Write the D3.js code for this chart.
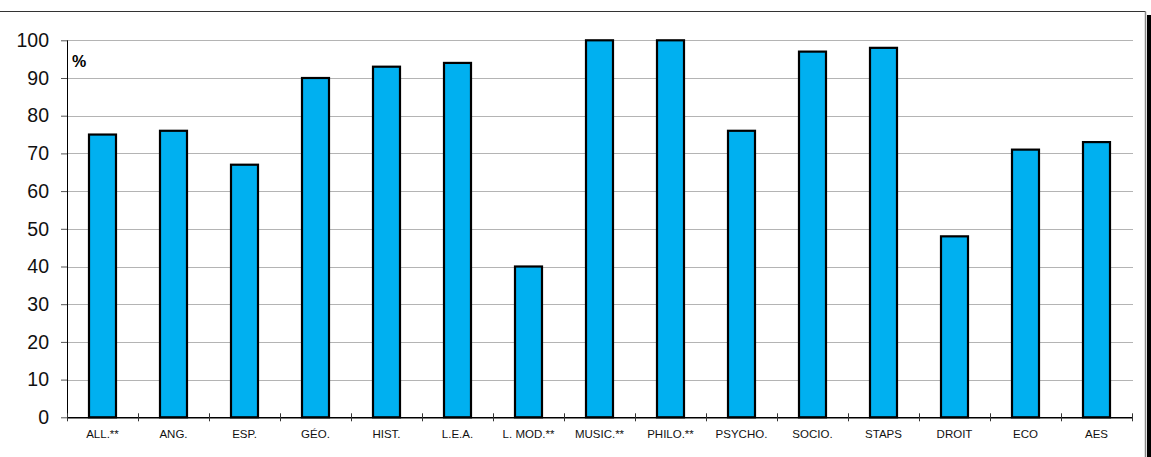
<!DOCTYPE html>
<html><head><meta charset="utf-8">
<script src="https://cdn.jsdelivr.net/npm/d3@7"></script>
<style>html,body{margin:0;padding:0;background:#fff;}svg{display:block;}</style>
</head><body>
<script>
const categories = ["ALL.**","ANG.","ESP.","GÉO.","HIST.","L.E.A.","L. MOD.**","MUSIC.**","PHILO.**","PSYCHO.","SOCIO.","STAPS","DROIT","ECO","AES"];
const values = [75,76,67,90,93,94,40,100,100,76,97,98,48,71,73];
const yTicks = [0,10,20,30,40,50,60,70,80,90,100];
const unitLabel = "%";

(function(){
const W = 1151, H = 457;
const svg = d3.select("body").append("svg").attr("width", W).attr("height", H);

// outer frame
svg.append("line").attr("x1",0).attr("x2",1145.5).attr("y1",11.5).attr("y2",11.5).attr("stroke","#333").attr("stroke-width",1);
svg.append("line").attr("x1",1145.5).attr("x2",1145.5).attr("y1",11.5).attr("y2",H).attr("stroke","#888").attr("stroke-width",1.5);
svg.append("rect").attr("x",1147).attr("y",15).attr("width",4).attr("height",H-15).attr("fill","#000");

const pLeft = 67, pRight = 1132, pTop = 40.3, pBottom = 417.3;
const x = d3.scaleBand().domain(categories).range([pLeft, pRight]).paddingInner(0).paddingOuter(0);
const y = d3.scaleLinear().domain([0,100]).range([pBottom, pTop]);

// gridlines
svg.append("g").selectAll("line").data(yTicks.filter(d=>d>0)).join("line")
  .attr("x1", pLeft).attr("x2", pRight+1)
  .attr("y1", d=>Math.round(y(d))+0.5).attr("y2", d=>Math.round(y(d))+0.5)
  .attr("stroke","#b4b4b4").attr("stroke-width",1);

// bars
const bw = 27;
svg.append("g").selectAll("rect").data(values).join("rect")
  .attr("x",(d,i)=>x(categories[i]) + x.bandwidth()/2 - bw/2)
  .attr("y",d=>y(d))
  .attr("width",bw)
  .attr("height",d=>pBottom - y(d))
  .attr("fill","#00b0f0")
  .attr("stroke","#000").attr("stroke-width",2.2);

// y axis
const yAxis = d3.axisLeft(y).tickValues(yTicks).tickSize(6).tickPadding(12);
const gy = svg.append("g").attr("transform",`translate(${pLeft},0)`).call(yAxis);
gy.select(".domain").attr("stroke","#000").attr("d",`M0.5,${pTop}V${pBottom}`);
gy.selectAll(".tick line").attr("stroke","#555");
gy.selectAll("text").attr("font-family","Liberation Sans, Arial, sans-serif").attr("font-size",19.5).attr("fill","#111");

// x axis
svg.append("line").attr("x1",pLeft).attr("x2",pRight+1).attr("y1",pBottom+0.5).attr("y2",pBottom+0.5).attr("stroke","#000").attr("stroke-width",1.5);
const boundaries = d3.range(categories.length+1).map(i => pLeft + i*x.bandwidth());
svg.append("g").selectAll("line").data(boundaries).join("line")
  .attr("x1",d=>Math.round(d)+0.5).attr("x2",d=>Math.round(d)+0.5)
  .attr("y1",pBottom-4).attr("y2",pBottom+4).attr("stroke","#333");
svg.append("g").selectAll("text").data(categories).join("text")
  .attr("x",d=>x(d)+x.bandwidth()/2).attr("y",437.5)
  .attr("text-anchor","middle")
  .attr("font-family","Liberation Sans, Arial, sans-serif").attr("font-size",11.5).attr("fill","#111")
  .text(d=>d);

svg.append("text").attr("x",72).attr("y",67).attr("font-family","Liberation Sans, Arial, sans-serif")
  .attr("font-weight","bold").attr("font-size",16).text(unitLabel);
})();
</script>
</body></html>
